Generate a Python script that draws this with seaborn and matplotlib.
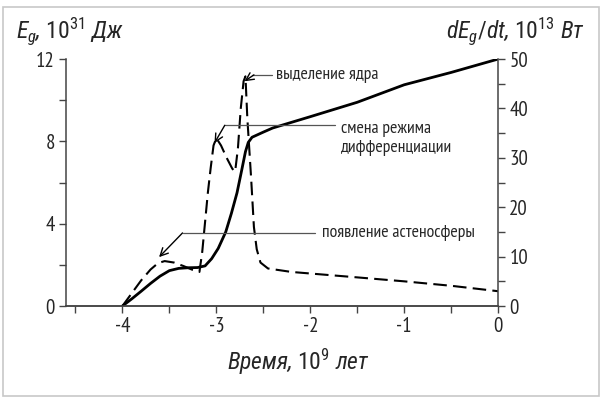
# Gravitational energy release of the Earth vs time
import numpy as np
import pandas as pd
import matplotlib
matplotlib.use("Agg")
import matplotlib.pyplot as plt
from matplotlib.patches import Rectangle
from matplotlib.ticker import MultipleLocator
import seaborn as sns

# ==========================================
# Data
# ==========================================

# Eg, 10^31 J (left axis, solid)
time_eg = [-4.0, -3.9, -3.8, -3.7, -3.6, -3.5, -3.4, -3.3, -3.2, -3.12, -3.05,
           -2.98, -2.9, -2.84, -2.78, -2.73, -2.69, -2.66, -2.62, -2.5, -2.4,
           -2.0, -1.5, -1.0, -0.5, 0.0]
eg = [0.0, 0.35, 0.72, 1.1, 1.45, 1.72, 1.83, 1.86, 1.87, 1.95, 2.3,
      2.8, 3.6, 4.5, 5.5, 6.6, 7.5, 7.95, 8.2, 8.45, 8.65,
      9.2, 9.9, 10.75, 11.35, 12.0]

# dEg/dt, 10^13 W (right axis, dashed)
time_p = [-4.0, -3.9, -3.8, -3.7, -3.62, -3.55, -3.45, -3.35, -3.25, -3.18,
          -3.15, -3.12, -3.09, -3.06, -3.03, -3.0, -2.95, -2.89, -2.83, -2.8,
          -2.77, -2.74, -2.71, -2.69, -2.67, -2.63, -2.6, -2.57, -2.53, -2.45,
          -2.2, -1.5, -1.0, -0.5, 0.0]
power = [0.0, 2.6, 5.2, 7.4, 8.7, 9.1, 8.8, 8.1, 7.3, 6.9,
         11.0, 17.0, 23.0, 28.0, 32.5, 34.0, 32.5, 30.0, 27.8, 27.2,
         32.0, 40.0, 45.5, 46.5, 38.0, 26.0, 16.0, 11.5, 8.8, 7.6,
         6.9, 5.8, 5.0, 4.1, 3.0]

df_eg = pd.DataFrame({"t": time_eg, "eg": eg})
df_p = pd.DataFrame({"t": time_p, "p": power})

# ==========================================
# Style
# ==========================================

sns.set_style("ticks")
NARROW = ["PT Sans Narrow", "Roboto Condensed", "DejaVu Sans"]
plt.rcParams["font.family"] = NARROW
plt.rcParams["mathtext.fontset"] = "custom"
plt.rcParams["mathtext.rm"] = "Roboto Condensed"
plt.rcParams["mathtext.it"] = "Roboto Condensed:italic"
ITALIC = ["Roboto Condensed", "DejaVu Sans"]

axis_col = "#444444"

fig = plt.figure(figsize=(6.06, 3.99), dpi=100)
ax = fig.add_axes([0.109, 0.233, 0.713, 0.619])
ax2 = ax.twinx()

sns.lineplot(data=df_eg, x="t", y="eg", ax=ax, color="black", lw=2.0)
sns.lineplot(data=df_p, x="t", y="p", ax=ax2, color="black", lw=1.5,
             linestyle=(0, (6.5, 3)))

ax.set_xlim(-4.6, 0)
ax.set_ylim(0, 12)
ax2.set_ylim(0, 50)

ax.xaxis.set_major_locator(MultipleLocator(1))
ax.xaxis.set_minor_locator(MultipleLocator(0.5))
ax.yaxis.set_major_locator(MultipleLocator(4))
ax.yaxis.set_minor_locator(MultipleLocator(2))
ax2.yaxis.set_major_locator(MultipleLocator(10))
ax2.yaxis.set_minor_locator(MultipleLocator(5))

for a in (ax, ax2):
    a.set_xlabel("")
    a.set_ylabel("")
    a.spines["top"].set_visible(False)
    for s in a.spines.values():
        s.set_color(axis_col)
        s.set_linewidth(1.1)
    a.tick_params(which="both", length=5, width=1.0, color=axis_col,
                  labelsize=15, pad=3)
ax2.spines["left"].set_visible(False)
ax.spines["right"].set_visible(False)

# x tick labels use a plain hyphen, like the reference
ax.set_xticks([-4, -3, -2, -1, 0])
ax.set_xticklabels(["-4", "-3", "-2", "-1", "0"])

# axis titles
fig.text(0.027, 0.905, r"$E_g$, $\mathit{10^{31}}$ Дж", fontsize=17,
         style="italic", family=ITALIC, ha="left", va="baseline")
fig.text(0.964, 0.905, r"$dE_g/dt$, $\mathit{10^{13}}$ Вт", fontsize=17,
         style="italic", family=ITALIC, ha="right", va="baseline")
fig.text(0.492, 0.072, r"Время, $\mathit{10^9}$ лет", fontsize=17,
         style="italic", family=ITALIC, ha="center", va="baseline")

# ==========================================
# Annotations
# ==========================================

lead = dict(color="#555555", lw=0.9)
arrow = dict(arrowstyle="->", color="black", lw=1.0, mutation_scale=14,
             shrinkA=0, shrinkB=0)
note_size = 12.8

# core separation
ax2.plot([-2.41, -2.62], [46.8, 46.8], **lead)
ax2.annotate("", xy=(-2.70, 45.5), xytext=(-2.60, 46.8), arrowprops=arrow)
ax2.text(-2.37, 46.8, "выделение ядра", fontsize=note_size,
         va="center", ha="left")

# change of differentiation mode
ax2.plot([-2.91, -1.74], [36.6, 36.6], **lead)
ax2.annotate("", xy=(-3.02, 33.0), xytext=(-2.91, 36.6), arrowprops=arrow)
ax2.text(-1.67, 35.0, "смена режима", fontsize=note_size,
         va="baseline", ha="left")
ax2.text(-1.67, 31.1, "дифференциации", fontsize=note_size,
         va="baseline", ha="left")

# asthenosphere appears
ax2.plot([-3.36, -1.95], [14.8, 14.8], **lead)
ax2.annotate("", xy=(-3.61, 9.9), xytext=(-3.36, 14.8), arrowprops=arrow)
ax2.text(-1.88, 14.8, "появление астеносферы", fontsize=note_size,
         va="center", ha="left")

# light frame around the whole picture
fig.patches.append(Rectangle((0.005, 0.0075), 0.983, 0.975,
                             transform=fig.transFigure, fill=False,
                             ec="#c8c8c8", lw=1.2))

fig.savefig("out.png", dpi=100)
